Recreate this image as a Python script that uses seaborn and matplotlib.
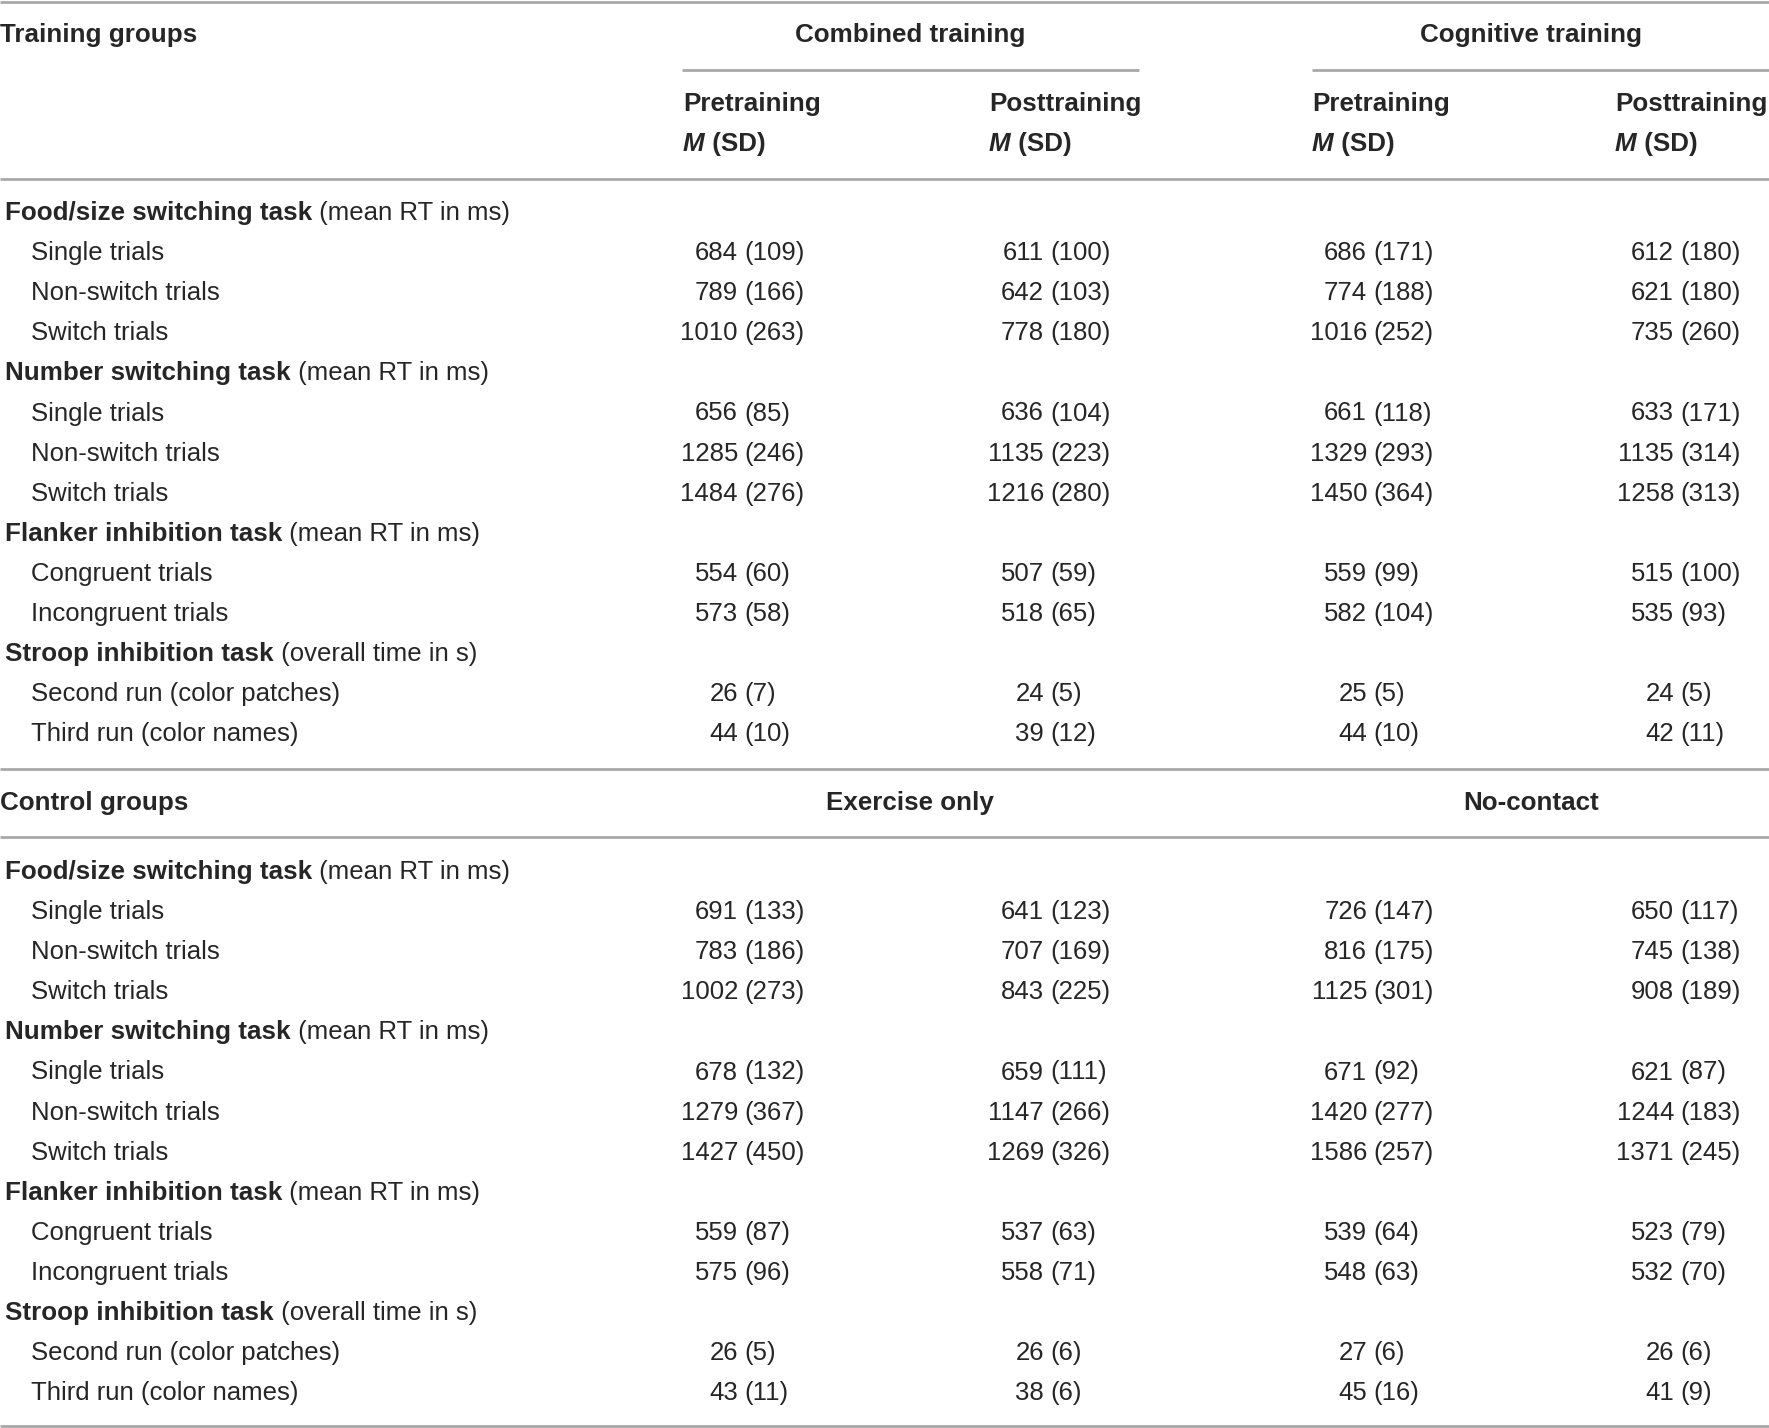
import matplotlib.pyplot as plt
import seaborn as sns

# table content
sections = ["Food/size switching task", "Number switching task",
            "Flanker inhibition task", "Stroop inhibition task"]
units = ["(mean RT in ms)", "(mean RT in ms)", "(mean RT in ms)", "(overall time in s)"]
conditions = [["Single trials", "Non-switch trials", "Switch trials"],
              ["Single trials", "Non-switch trials", "Switch trials"],
              ["Congruent trials", "Incongruent trials"],
              ["Second run (color patches)", "Third run (color names)"]]

training_groups = ["Combined training", "Cognitive training"]
control_groups = ["Exercise only", "No-contact"]
phases = ["Pretraining", "Posttraining"]

combined_pre_m = [684, 789, 1010, 656, 1285, 1484, 554, 573, 26, 44]
combined_pre_sd = [109, 166, 263, 85, 246, 276, 60, 58, 7, 10]
combined_post_m = [611, 642, 778, 636, 1135, 1216, 507, 518, 24, 39]
combined_post_sd = [100, 103, 180, 104, 223, 280, 59, 65, 5, 12]
cognitive_pre_m = [686, 774, 1016, 661, 1329, 1450, 559, 582, 25, 44]
cognitive_pre_sd = [171, 188, 252, 118, 293, 364, 99, 104, 5, 10]
cognitive_post_m = [612, 621, 735, 633, 1135, 1258, 515, 535, 24, 42]
cognitive_post_sd = [180, 180, 260, 171, 314, 313, 100, 93, 5, 11]

exercise_pre_m = [691, 783, 1002, 678, 1279, 1427, 559, 575, 26, 43]
exercise_pre_sd = [133, 186, 273, 132, 367, 450, 87, 96, 5, 11]
exercise_post_m = [641, 707, 843, 659, 1147, 1269, 537, 558, 26, 38]
exercise_post_sd = [123, 169, 225, 111, 266, 326, 63, 71, 6, 6]
nocontact_pre_m = [726, 816, 1125, 671, 1420, 1586, 539, 548, 27, 45]
nocontact_pre_sd = [147, 175, 301, 92, 277, 257, 64, 63, 6, 16]
nocontact_post_m = [650, 745, 908, 621, 1244, 1371, 523, 532, 26, 41]
nocontact_post_sd = [117, 138, 189, 87, 183, 245, 79, 70, 6, 9]

sns.set_style("white")
plt.rcParams['font.family'] = ['Liberation Sans', 'DejaVu Sans']

W, H = 1769, 1428
fig = plt.figure(figsize=(W / 100, H / 100), dpi=100)
ax = fig.add_axes([0, 0, 1, 1])
ax.set_xlim(0, W)
ax.set_ylim(H, 0)
ax.axis('off')

FS = 18.5
FSB = 18.7
LINE = '#a8a8a8'
CAP = 9  # half cap height, px
col_paren = [744, 1050, 1373, 1680]
head_x = [683, 989, 1312, 1615]
group_center = [910, 1531]
step = 40.1


def hline(y, x0=0, x1=W):
    ax.plot([x0, x1], [y, y], color=LINE, lw=2, solid_capstyle='butt')


def bold_plus(x, y, bold, rest, italic=False):
    t = ax.text(x, y + CAP, bold, fontsize=FSB, fontweight='bold',
                fontstyle='italic' if italic else 'normal', va='baseline', ha='left')
    ax.annotate(rest, xy=(1, 0), xycoords=t, va='bottom', ha='left',
                fontsize=FSB if italic else FS,
                fontweight='bold' if italic else 'normal')


def block(y_title, title, groups, y_rows, columns, with_phases):
    ax.text(0, y_title + CAP, title, fontsize=FSB, fontweight='bold', va='baseline')
    for name, cx in zip(groups, group_center):
        ax.text(cx, y_title + CAP, name, fontsize=FSB, fontweight='bold',
                va='baseline', ha='center')
    if with_phases:
        for i, hx in enumerate(head_x):
            ax.text(hx, 102 + CAP, phases[i % 2], fontsize=FSB, fontweight='bold', va='baseline')
            bold_plus(hx, 142, "M", " (SD)", italic=True)
    r = 0
    k = 0
    for sec, unit, conds in zip(sections, units, conditions):
        y = y_rows + step * r
        bold_plus(5, y, sec, " " + unit)
        r += 1
        for c in conds:
            y = y_rows + step * r
            ax.text(31, y + CAP, c, fontsize=FS, va='baseline')
            for (means, sds), px in zip(columns, col_paren):
                ax.text(px - 6, y + CAP, str(means[k]), fontsize=FS, va='baseline', ha='right')
                ax.text(px, y + CAP, f"({sds[k]})", fontsize=FS, va='baseline', ha='left')
            r += 1
            k += 1


hline(1.5)
hline(70, 682, 1139)
hline(70, 1312, W)
hline(179)
block(33, "Training groups", training_groups, 211,
      [(combined_pre_m, combined_pre_sd), (combined_post_m, combined_post_sd),
       (cognitive_pre_m, cognitive_pre_sd), (cognitive_post_m, cognitive_post_sd)], True)
hline(769)
block(801, "Control groups", control_groups, 870,
      [(exercise_pre_m, exercise_pre_sd), (exercise_post_m, exercise_post_sd),
       (nocontact_pre_m, nocontact_pre_sd), (nocontact_post_m, nocontact_post_sd)], False)
hline(837)
hline(1426)

fig.savefig('out.png', dpi=100)
